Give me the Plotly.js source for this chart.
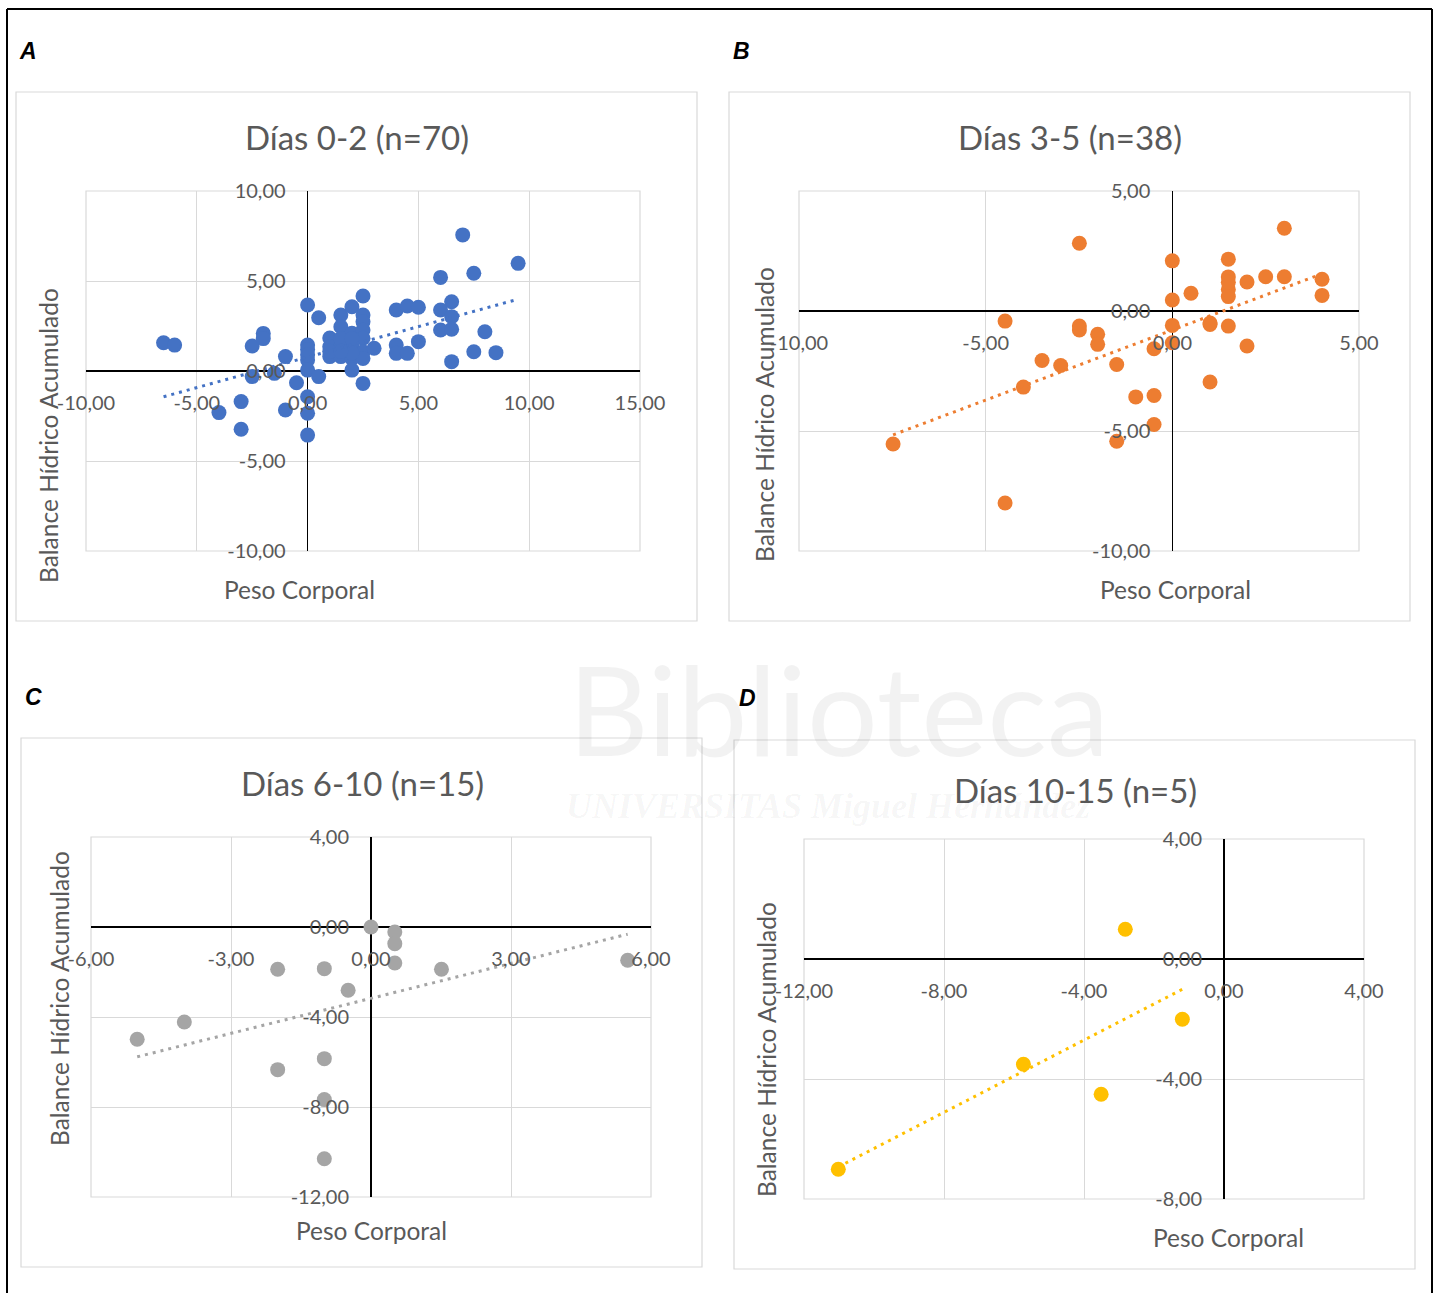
<!DOCTYPE html>
<html><head><meta charset="utf-8">
<script src="https://cdn.plot.ly/plotly-3.0.1.min.js"></script>
<style>body{margin:0;background:#fff}#chart{width:1441px;height:1293px}</style>
</head><body><div id="chart"></div>
<script>
// ---------- DATA ----------
const titles = ['Días 0-2 (n=70)', 'Días 3-5 (n=38)', 'Días 6-10 (n=15)', 'Días 10-15 (n=5)'];
const panelLetters = ['A', 'B', 'C', 'D'];
const xAxisTitle = 'Peso Corporal';
const yAxisTitle = 'Balance Hídrico Acumulado';

const aX = [-6.5,-6.0,-2.5,-2.0,-2.0,-1.0,-2.5,-1.5,-0.5,-4.0,-3.0,-3.0,-1.0,0,0.5,0,0,0,0,0.5,0,0,0,1.0,1.0,1.0,1.5,1.5,1.5,1.5,2.0,2.0,2.0,2.0,2.0,2.5,2.5,2.5,2.5,2.5,2.5,2.5,2.5,3.0,4.0,4.5,5.0,4.0,4.0,4.5,5.0,6.0,7.0,7.5,9.5,6.5,6.0,6.5,6.0,6.5,8.0,6.5,7.5,8.5,1.5,2.0,0,1.0,2.0,1.5];
const aY = [1.57,1.44,1.39,2.09,1.80,0.80,-0.31,-0.13,-0.65,-2.31,-1.70,-3.24,-2.17,3.67,2.96,1.44,1.20,0.61,0.05,-0.31,-1.43,-2.35,-3.56,1.83,1.35,0.80,3.11,2.46,1.35,0.80,3.57,2.10,1.44,0.70,0.05,4.17,3.11,2.74,2.28,1.82,1.07,0.70,-0.69,1.26,3.39,3.61,3.54,1.44,0.98,0.98,1.63,5.20,7.56,5.43,5.98,3.85,3.39,3.02,2.28,2.32,2.18,0.52,1.07,1.02,1.80,1.00,0.90,1.10,1.80,1.10];
const bX = [-7.48,-4.48,-4.48,-2.49,-2.49,-2.49,-2.0,-2.0,-3.49,-2.99,-3.99,-1.49,-1.49,-0.98,-0.49,-0.49,-0.49,0,0,0,0,0.5,1.01,1.01,1.01,1.5,1.5,1.5,1.5,1.5,2.0,2.0,2.5,3.0,3.0,4.01,4.01,1.5];
const bY = [-5.54,-8.0,-0.42,2.82,-0.63,-0.79,-0.97,-1.39,-2.06,-2.27,-3.17,-2.23,-5.43,-3.58,-3.52,-4.73,-1.57,2.09,0.46,-0.6,-1.32,0.74,-0.56,-0.5,-2.96,2.16,1.42,0.9,0.6,-0.63,1.21,-1.46,1.43,3.45,1.43,1.32,0.65,1.2];
const cX = [0,0.51,0.51,0.51,1.51,5.5,-2.0,-1.0,-0.49,-4.0,-5.01,-1.0,-2.0,-1.0,-1.0];
const cY = [0,-0.22,-0.74,-1.6,-1.88,-1.48,-1.88,-1.85,-2.81,-4.22,-4.99,-5.85,-6.34,-7.67,-10.3];
const dX = [-2.82,-1.19,-5.73,-3.51,-11.02];
const dY = [0.99,-2.01,-3.51,-4.51,-7.01];

// linear trendlines (endpoints)
const trendAX = [-6.5, 9.5],   trendAY = [-1.43, 3.99];
const trendBX = [-7.48, 4.01], trendBY = [-5.16, 1.55];
const trendCX = [-5.01, 5.5],  trendCY = [-5.77, -0.32];
const trendDX = [-11.02, -1.19], trendDY = [-6.93, -1.01];

// axis ticks
const xTicksA = [-10,-5,0,5,10,15],  yTicksA = [-10,-5,0,5,10];
const xTicksB = [-10,-5,0,5],        yTicksB = [-10,-5,0,5];
const xTicksC = [-6,-3,0,3,6],       yTicksC = [-12,-8,-4,0,4];
const xTicksD = [-12,-8,-4,0,4],     yTicksD = [-8,-4,0,4];

// ---------- STYLE / LAYOUT ----------
const W = 1441, H = 1293;
const fx = p => p / W, fy = p => 1 - p / H;
const colors = ['#4472C4', '#ED7D31', '#A5A5A5', '#FFC000'];
const FONT = 'Lato, Carlito, Calibri, "Open Sans", sans-serif';
const GRAY = '#595959';
const fmt = v => v.toFixed(2).replace('.', ',');

const series = [[aX,aY,trendAX,trendAY],[bX,bY,trendBX,trendBY],[cX,cY,trendCX,trendCY],[dX,dY,trendDX,trendDY]];
const xTicks = [xTicksA, xTicksB, xTicksC, xTicksD];
const yTicks = [yTicksA, yTicksB, yTicksC, yTicksD];
const panels = [
  {box:[16,92,697,621],   plot:[86,191,640,551],   letter:[17,51],  title:[357,137], xt:[299,589],  yt:[48,436]},
  {box:[729,92,1410,621], plot:[799,191,1359,551], letter:[731,51], title:[1070,137], xt:[1175,589], yt:[764,415]},
  {box:[21,738,702,1267], plot:[91,837,651,1197],  letter:[23,697], title:[362,783], xt:[371,1230], yt:[59,999]},
  {box:[734,740,1415,1269], plot:[804,839,1364,1199], letter:[737,698], title:[1075,790], xt:[1228,1237], yt:[766,1049]}
];

const traces = [], shapes = [], annotations = [];
const layout = {
  width: W, height: H, margin: {l:0,r:0,t:0,b:0},
  paper_bgcolor: '#fff', plot_bgcolor: 'rgba(0,0,0,0)',
  showlegend: false, font: {family: FONT, color: GRAY}
};

// faint watermark (drawn first, under everything else)
shapes.push({type:'path', xref:'paper', yref:'paper', layer:'below',
  path: 'M' + fx(350) + ',' + fy(700) + ' L' + fx(520) + ',' + fy(700),
  line:{color:'rgba(0,0,0,0)', width:0}});

panels.forEach((p, i) => {
  const n = i + 1, sfx = n > 1 ? n : '', xa = 'x' + sfx, ya = 'y' + sfx;
  const [sx, sy, tx, ty] = series[i];
  traces.push({type:'scatter', mode:'markers', x: sx, y: sy, xaxis: xa, yaxis: ya,
    marker: {size: 15, color: colors[i]}, hoverinfo: 'x+y'});
  traces.push({type:'scatter', mode:'lines', x: tx, y: ty, xaxis: xa, yaxis: ya,
    line: {color: colors[i], width: 3, dash: '3px,5px'}, hoverinfo: 'skip'});

  const xt = xTicks[i], yt = yTicks[i];
  const xr = [xt[0], xt[xt.length - 1]], yr = [yt[0], yt[yt.length - 1]];
  const xd = [fx(p.plot[0]), fx(p.plot[2])];
  const yd = [fy(p.plot[3]), fy(p.plot[1])];
  const xZeroPos = yd[0] + (0 - yr[0]) / (yr[1] - yr[0]) * (yd[1] - yd[0]);
  const yZeroPos = xd[0] + (0 - xr[0]) / (xr[1] - xr[0]) * (xd[1] - xd[0]);
  const common = {showgrid: true, gridcolor: '#d9d9d9', gridwidth: 1,
    zeroline: true, zerolinecolor: '#000', zerolinewidth: 1.6,
    showline: false, ticks: '', tickmode: 'array',
    tickfont: {family: FONT, size: 20, color: GRAY}, fixedrange: true, anchor: 'free'};
  layout['xaxis' + sfx] = Object.assign({}, common, {
    domain: xd, range: xr, tickvals: xt, ticktext: xt.map(fmt), position: xZeroPos, ticklabelstandoff: 18});
  layout['yaxis' + sfx] = Object.assign({}, common, {
    domain: yd, range: yr, tickvals: yt, ticktext: yt.map(fmt), position: yZeroPos, ticklabelstandoff: 22});

  // plot-area border (gridlines at the range ends)
  shapes.push({type:'rect', xref: xa + ' domain', yref: ya + ' domain', x0: 0, x1: 1, y0: 0, y1: 1,
    line: {color: '#d9d9d9', width: 1.2}, layer: 'below'});
  // chart box
  shapes.push({type:'rect', xref:'paper', yref:'paper', x0: fx(p.box[0]), x1: fx(p.box[2]),
    y0: fy(p.box[3]), y1: fy(p.box[1]), line: {color: '#d9d9d9', width: 1.2}, layer: 'below'});

  annotations.push({xref:'paper', yref:'paper', x: fx(p.letter[0]), y: fy(p.letter[1]),
    xanchor: 'left', yanchor: 'middle', showarrow: false, text: '<b><i>' + panelLetters[i] + '</i></b>',
    font: {family: '"Liberation Sans", Arial, sans-serif', size: 23, color: '#000'}});
  annotations.push({xref:'paper', yref:'paper', x: fx(p.title[0]), y: fy(p.title[1]),
    xanchor: 'center', yanchor: 'middle', showarrow: false, text: titles[i],
    font: {family: FONT, size: 33, color: GRAY}});
  annotations.push({xref:'paper', yref:'paper', x: fx(p.xt[0]), y: fy(p.xt[1]),
    xanchor: 'center', yanchor: 'middle', showarrow: false, text: xAxisTitle,
    font: {family: FONT, size: 24.5, color: GRAY}});
  annotations.push({xref:'paper', yref:'paper', x: fx(p.yt[0]), y: fy(p.yt[1]),
    xanchor: 'center', yanchor: 'middle', showarrow: false, text: yAxisTitle, textangle: -90,
    font: {family: FONT, size: 24.5, color: GRAY}});
});

// outer frame
[[7,9,7,1300],[1432,9,1432,1300],[7,9,1432,9]].forEach(l => shapes.push({
  type:'line', xref:'paper', yref:'paper', x0: fx(l[0]), y0: fy(l[1]), x1: fx(l[2]), y1: fy(l[3]),
  line: {color: '#000', width: 2}}));

// faint watermark texts
annotations.push({xref:'paper', yref:'paper', x: fx(838), y: fy(708), xanchor:'center', yanchor:'middle',
  showarrow:false, text:'Biblioteca', font:{family: FONT, size: 125, color:'rgba(0,0,0,0.05)'}});
annotations.push({xref:'paper', yref:'paper', x: fx(828), y: fy(806), xanchor:'center', yanchor:'middle',
  showarrow:false, text:'<b><i>UNIVERSITAS Miguel Hernández</i></b>', font:{family:'"Liberation Serif", serif', size: 36, color:'rgba(0,0,0,0.045)'}});

layout.shapes = shapes;
layout.annotations = annotations;
Plotly.newPlot('chart', traces, layout, {staticPlot: true, displayModeBar: false});
</script></body></html>
